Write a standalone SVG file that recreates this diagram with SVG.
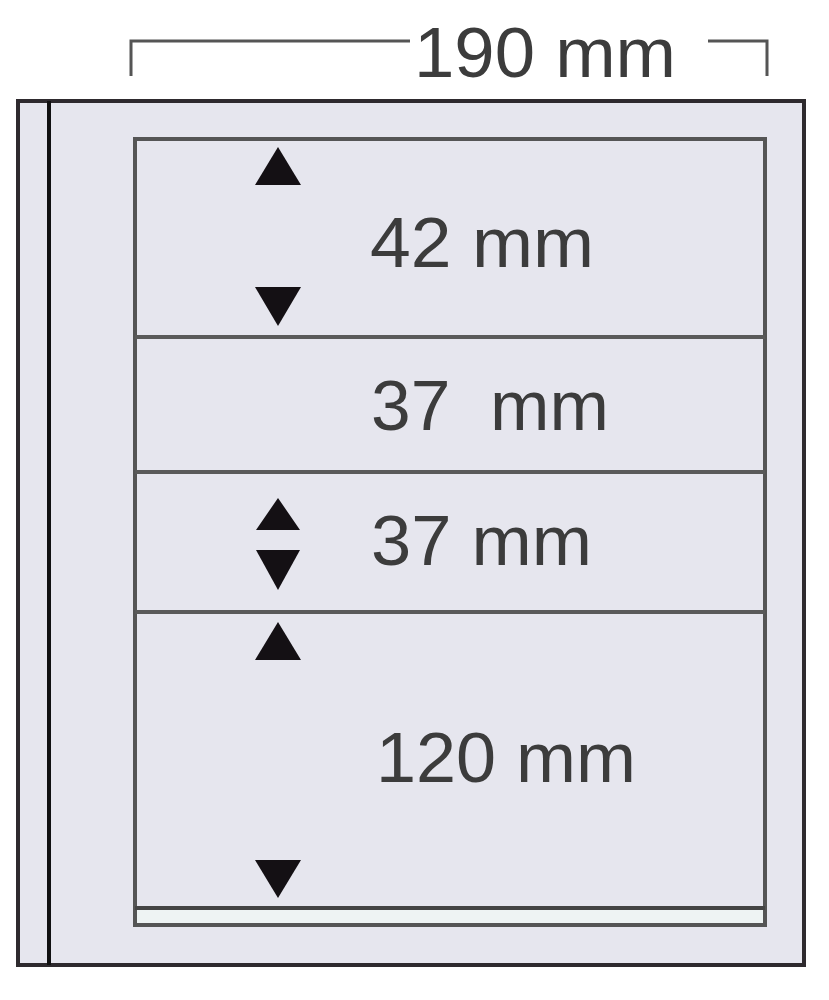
<svg xmlns="http://www.w3.org/2000/svg" width="829" height="1000" viewBox="0 0 829 1000">
<style>
.lbl{font-family:"Liberation Sans",Arial,sans-serif;font-size:70px;fill:#3c3c3c}
.div{stroke:#5a5a5a;stroke-width:4;fill:none}
.tri{fill:#141014}
.dim{stroke:#555;stroke-width:3;fill:none}
</style>
<rect width="829" height="1000" fill="#ffffff"/>
<g id="dimension">
<path class="dim" d="M131,76 V41 H410"/>
<path class="dim" d="M708,41 H767 V76"/>
<text class="lbl" x="414" y="77" textLength="262" lengthAdjust="spacingAndGlyphs">190 mm</text>
</g>
<g id="sheet">
<rect x="18" y="101" width="786" height="864" fill="#e6e6ee" stroke="#2e2a2e" stroke-width="4"/>
<line x1="49" y1="101" x2="49" y2="965" stroke="#111" stroke-width="4"/>
</g>
<g id="pocket-area">
<rect x="135" y="139" width="630" height="786" fill="#e6e6ee" stroke="#555" stroke-width="4"/>
<rect x="137" y="910" width="626" height="13" fill="#eef3f3"/>
<line class="div" x1="135" y1="908" x2="765" y2="908" style="stroke:#444"/>
</g>
<g id="connectors">
<line class="div" x1="135" y1="337" x2="765" y2="337"/>
<line class="div" x1="135" y1="472" x2="765" y2="472"/>
<line class="div" x1="135" y1="612" x2="765" y2="612"/>
</g>
<g id="strip1">
<polygon class="tri" points="278,147 255,185 301,185"/>
<polygon class="tri" points="255,287 301,287 278,326"/>
<text class="lbl" x="370" y="267" textLength="224" lengthAdjust="spacingAndGlyphs">42 mm</text>
</g>
<g id="strip2">
<text class="lbl" x="371" y="430" xml:space="preserve" textLength="238" lengthAdjust="spacingAndGlyphs">37  mm</text>
</g>
<g id="strip3">
<polygon class="tri" points="278,498 256,530 300,530"/>
<polygon class="tri" points="256,550 300,550 278,590"/>
<text class="lbl" x="371" y="565" textLength="221" lengthAdjust="spacingAndGlyphs">37 mm</text>
</g>
<g id="strip4">
<polygon class="tri" points="278,622 255,660 301,660"/>
<polygon class="tri" points="255,860 301,860 278,898"/>
<text class="lbl" x="376" y="782" textLength="260" lengthAdjust="spacingAndGlyphs">120 mm</text>
</g>
</svg>
